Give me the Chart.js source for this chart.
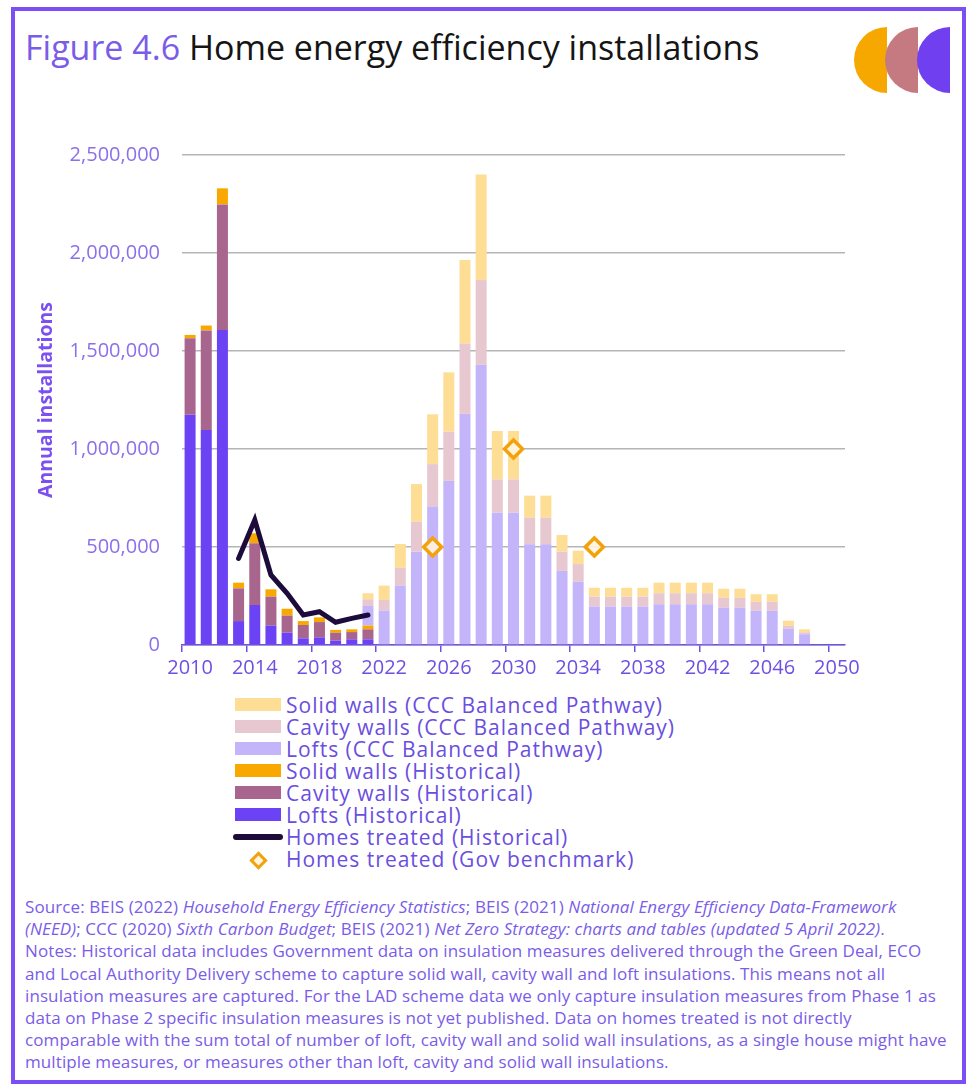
<!DOCTYPE html>
<html lang="en">
<head>
  <meta charset="UTF-8">
  <title>Figure 4.6 Home energy efficiency installations</title>
  <script src="https://cdn.jsdelivr.net/npm/chart.js"></script>
  <style>
    body {
      margin: 0;
      width: 977px;
      height: 1092px;
      position: relative;
      background: #fff;
      font-family: "Open Sans", sans-serif;
      overflow: hidden;
    }
    .frame {
      position: absolute;
      left: 11px;
      top: 7px;
      width: 955px;
      height: 1077px;
      box-sizing: border-box;
      border: 4px solid #7b4ff5;
    }
    h1 {
      position: absolute;
      left: 25px;
      top: 24px;
      margin: 0;
      font-size: 34px;
      line-height: 46px;
      font-weight: 400;
      color: #151515;
      white-space: nowrap;
    }
    h1 span { color: #7a5ce8; }
    #logo { position: absolute; left: 0; top: 0; }
    #wrap {
      position: absolute;
      left: 20px;
      top: 120px;
      width: 850px;
      height: 570px;
    }
    #legend {
      position: absolute;
      left: 233px;
      top: 694px;
      color: #6a4ee0;
      font-size: 21px;
      letter-spacing: 1px;
    }
    .row { height: 22px; line-height: 22px; display: flex; align-items: center; white-space: nowrap; }
    .sw { width: 50px; height: 22px; margin-right: 3px; position: relative; }
    .notes {
      position: absolute;
      left: 25px;
      top: 896px;
      color: #7a5ce8;
      font-size: 17px;
      letter-spacing: 0.1px;
      line-height: 22.2px;
      white-space: nowrap;
    }
  </style>
</head>
<body>
  <div class="frame"></div>
  <h1><span>Figure 4.6</span> Home energy efficiency installations</h1>
  <svg id="logo" width="977" height="100">
    <path d="M887 27 A33 33 0 0 0 887 93 Z" fill="#f7a800"/>
    <path d="M918 27 A33 33 0 0 0 918 93 Z" fill="#c47a80"/>
    <path d="M950 27 A33 33 0 0 0 950 93 Z" fill="#7040f0"/>
  </svg>

  <div id="wrap"><canvas id="chart"></canvas></div>
  <div id="legend"></div>

  <div class="notes">
    Source: BEIS (2022) <i>Household Energy Efficiency Statistics</i>; BEIS (2021) <i>National Energy Efficiency Data-Framework</i><br>
    <i>(NEED)</i>; CCC (2020) <i>Sixth Carbon Budget</i>; BEIS (2021) <i>Net Zero Strategy: charts and tables (updated 5 April 2022)</i>.<br>
    Notes: Historical data includes Government data on insulation measures delivered through the Green Deal, ECO<br>
    and Local Authority Delivery scheme to capture solid wall, cavity wall and loft insulations. This means not all<br>
    insulation measures are captured. For the LAD scheme data we only capture insulation measures from Phase 1 as<br>
    data on Phase 2 specific insulation measures is not yet published. Data on homes treated is not directly<br>
    comparable with the sum total of number of loft, cavity wall and solid wall insulations, as a single house might have<br>
    multiple measures, or measures other than loft, cavity and solid wall insulations.
  </div>

  <script>
    // categories
    const years = ['2010','2011','2012','2013','2014','2015','2016','2017','2018','2019',
      '2020','2021','2022','2023','2024','2025','2026','2027','2028','2029',
      '2030','2031','2032','2033','2034','2035','2036','2037','2038','2039',
      '2040','2041','2042','2043','2044','2045','2046','2047','2048','2049','2050'];

    // historical, 2010-2021
    const loftsHist  = [1175000, 1097000, 1607000, 122000, 204000, 99000, 63000, 34000, 39000, 22000, 29000, 29000];
    const cavityHist = [390000, 508000, 641000, 167000, 315000, 148000, 87000, 68000, 78000, 41000, 37000, 51000];
    const solidHist  = [17000, 25000, 82000, 29000, 51000, 37000, 35000, 20000, 24000, 14000, 14000, 19000];

    // CCC Balanced Pathway, 2021-2048
    const loftsCCC  = [100000, 175000, 303000, 476000, 706000, 837000, 1179000, 1429000, 675000, 675000,
      514000, 514000, 378000, 323000, 196000, 196000, 196000, 196000, 208000, 208000,
      208000, 208000, 190000, 190000, 175000, 175000, 83000, 55000];
    const cavityCCC = [34000, 55000, 91000, 153000, 217000, 251000, 358000, 433000, 170000, 170000,
      136000, 136000, 98000, 90000, 51000, 51000, 51000, 51000, 56000, 56000,
      56000, 56000, 51000, 51000, 46000, 46000, 15000, 10000];
    const solidCCC  = [31000, 73000, 121000, 192000, 254000, 303000, 427000, 538000, 247000, 247000,
      112000, 112000, 85000, 68000, 45000, 45000, 45000, 45000, 54000, 54000,
      54000, 54000, 46000, 46000, 38000, 38000, 26000, 15000];

    // homes treated, 2013-2021
    const homesTreated = [442000, 638000, 357000, 264000, 153000, 170000, 116000, 136000, 153000];
    // government benchmark
    const benchYears = ['2025', '2030', '2035'];
    const benchValues = [500000, 1000000, 500000];

    const yTicks = [0, 500000, 1000000, 1500000, 2000000, 2500000];

    // put a series onto the full year list, starting at a given year
    function fromYear(first, vals) {
      const out = years.map(() => null);
      const start = years.indexOf(first);
      vals.forEach((v, i) => { out[start + i] = v; });
      return out;
    }
    const bench = years.map(y => {
      const i = benchYears.indexOf(y);
      return i >= 0 ? benchValues[i] : null;
    });

    const purple = '#7050e0';
    const barCommon = { type: 'bar', stack: 'bars', barPercentage: 0.68, categoryPercentage: 1.0 };

    const datasets = [
      { ...barCommon, label: 'Lofts (Historical)', data: fromYear('2010', loftsHist), backgroundColor: '#6c42f5' },
      { ...barCommon, label: 'Cavity walls (Historical)', data: fromYear('2010', cavityHist), backgroundColor: '#a8668f' },
      { ...barCommon, label: 'Solid walls (Historical)', data: fromYear('2010', solidHist), backgroundColor: '#f9a800' },
      { ...barCommon, label: 'Lofts (CCC Balanced Pathway)', data: fromYear('2021', loftsCCC), backgroundColor: '#c4b5fb' },
      { ...barCommon, label: 'Cavity walls (CCC Balanced Pathway)', data: fromYear('2021', cavityCCC), backgroundColor: '#e8c8d0' },
      { ...barCommon, label: 'Solid walls (CCC Balanced Pathway)', data: fromYear('2021', solidCCC), backgroundColor: '#fedd94' },
      {
        type: 'line', stack: 'treated', order: -1,
        label: 'Homes treated (Historical)', data: fromYear('2013', homesTreated),
        borderColor: '#1d0b3b', backgroundColor: '#1d0b3b', borderWidth: 5,
        pointRadius: 0, borderCapStyle: 'round', spanGaps: false
      },
      {
        type: 'line', stack: 'bench', order: -2, showLine: false,
        label: 'Homes treated (Gov benchmark)', data: bench,
        pointStyle: 'rectRot', pointRadius: 9, pointBorderWidth: 3.5,
        pointBorderColor: '#f2a20c', pointBackgroundColor: 'rgba(255,244,222,0.9)'
      }
    ];

    const chart = new Chart(document.getElementById('chart'), {
      data: { labels: years, datasets: datasets },
      options: {
        responsive: true,
        maintainAspectRatio: false,
        animation: false,
        layout: { padding: { top: 35, right: 25, bottom: 0, left: 0 } },
        plugins: { legend: { display: false }, tooltip: { enabled: false } },
        scales: {
          x: {
            stacked: true,
            offset: true,
            grid: {
              offset: true,
              drawOnChartArea: false,
              drawTicks: true,
              tickLength: 7,
              lineWidth: 1.5,
              color: ctx => (ctx.index !== undefined && ctx.index % 4 === 0) ? purple : 'rgba(0,0,0,0)'
            },
            border: { display: true, color: purple, width: 1.5 },
            ticks: {
              autoSkip: false,
              maxRotation: 0,
              padding: 4,
              color: purple,
              font: { family: 'Open Sans', size: 20 },
              callback: (v, i) => i % 4 === 0 ? years[i] : ''
            },
            afterFit: s => { s.height = 45; }
          },
          y: {
            stacked: true,
            min: 0,
            max: 2500000,
            afterBuildTicks: s => { s.ticks = yTicks.map(v => ({ value: v })); },
            grid: { color: '#b5b5b5', lineWidth: 1.5, drawTicks: false },
            border: { display: false },
            ticks: {
              padding: 22,
              color: '#8b70ea',
              font: { family: 'Open Sans', size: 20 },
              callback: v => v.toLocaleString('en-US')
            },
            title: {
              display: true,
              text: 'Annual installations',
              color: '#7b4ff0',
              font: { family: 'Open Sans', size: 19.5, weight: 'bold' },
              padding: { top: 15, bottom: 0 }
            },
            afterFit: s => { s.width = 162; }
          }
        }
      }
    });

    // legend, top of the stack first
    const legendOrder = [5, 4, 3, 2, 1, 0, 6, 7];
    const legend = document.getElementById('legend');
    legendOrder.forEach(i => {
      const ds = chart.data.datasets[i];
      const row = document.createElement('div');
      row.className = 'row';
      const sw = document.createElement('div');
      sw.className = 'sw';
      if (ds.type === 'bar') {
        sw.innerHTML = `<div style="position:absolute;left:2px;top:4px;width:46px;height:13px;background:${ds.backgroundColor}"></div>`;
      } else if (ds.showLine === false) {
        sw.innerHTML = `<div style="position:absolute;left:19px;top:6px;width:7px;height:7px;transform:rotate(45deg);border:3px solid ${ds.pointBorderColor};background:${ds.pointBackgroundColor}"></div>`;
      } else {
        sw.innerHTML = `<div style="position:absolute;left:0;top:8px;width:50px;height:6px;border-radius:3px;background:${ds.borderColor}"></div>`;
      }
      row.appendChild(sw);
      const t = document.createElement('span');
      t.textContent = ds.label;
      row.appendChild(t);
      legend.appendChild(row);
    });
  </script>
</body>
</html>
